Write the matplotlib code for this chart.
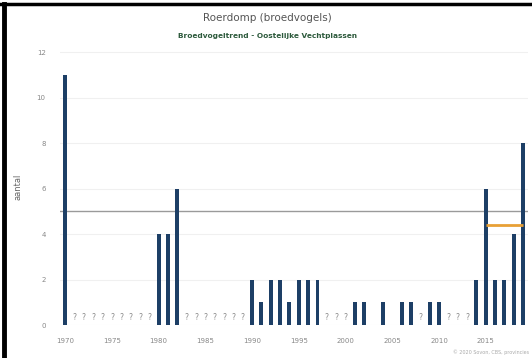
import numpy as np
import matplotlib
matplotlib.use("Agg")
import matplotlib.pyplot as plt
from matplotlib.lines import Line2D

# broedparen per jaar; None = onbekend (?)
years = list(range(1970, 2020))
counts = [11, None, None, None, None, None, None, None, None, None,
          4, 4, 6, None, None, None, None, None, None, None,
          2, 1, 2, 2, 1, 2, 2, 2, None, None,
          None, 1, 1, 0, 1, 0, 1, 1, None, 1,
          1, None, None, None, 2, 6, 2, 2, 4, 8]
long_mean = 5.0
recent_years = [2015, 2019]
recent_mean = 4.4
tick_years = [1970, 1975, 1980, 1985, 1990, 1995, 2000, 2005, 2010, 2015]

fig = plt.figure(figsize=(5.32, 3.58), dpi=100)
ax = fig.add_axes([0.112, 0.092, 0.88, 0.775])

vals = [0 if c is None else c for c in counts]
ax.bar(years, vals, width=0.42, color='#1d3f66', zorder=3)
for y, c in zip(years, counts):
    if c is None:
        ax.text(y, 0.15, '?', ha='center', va='bottom', fontsize=5.5, color='#8a8a8a', zorder=3)

ax.axhline(long_mean, color='#9a9a9a', lw=1.0, zorder=2)
ax.plot(recent_years, [recent_mean, recent_mean], color='#e8a035', lw=2, zorder=4,
        solid_capstyle='butt')

ax.set_xlim(1969.4, 2019.5)
ax.set_ylim(0, 12.2)
ax.set_yticks(range(0, 13, 2))
ax.set_xticks(tick_years)
ax.grid(axis='y', color='#f0f0f0', lw=0.8, zorder=0)
for s in ax.spines.values():
    s.set_visible(False)
ax.tick_params(axis='x', length=0, labelsize=5, colors='#888888', pad=9)
ax.tick_params(axis='y', length=0, labelsize=5, colors='#888888', pad=10)
ax.set_ylabel('aantal', fontsize=6, color='#666666', labelpad=10)

fig.text(0.503, 0.94, 'Roerdomp (broedvogels)', ha='center', fontsize=7.5, color='#555555')
fig.text(0.503, 0.893, 'Broedvogeltrend - Oostelijke Vechtplassen', ha='center',
         fontsize=5.3, color='#2d5a3c', fontweight='bold')
fig.text(0.995, 0.012, '© 2020 Sovon, CBS, provincies', ha='right', fontsize=3.5, color='#aaaaaa')

# zwarte rand links en boven
fig.add_artist(Line2D([0.007, 0.007], [0, 0.99], transform=fig.transFigure, color='black', lw=3.5))
fig.add_artist(Line2D([0.0, 1.0], [0.99, 0.99], transform=fig.transFigure, color='black', lw=2.5))

fig.savefig('out.png', dpi=100)
